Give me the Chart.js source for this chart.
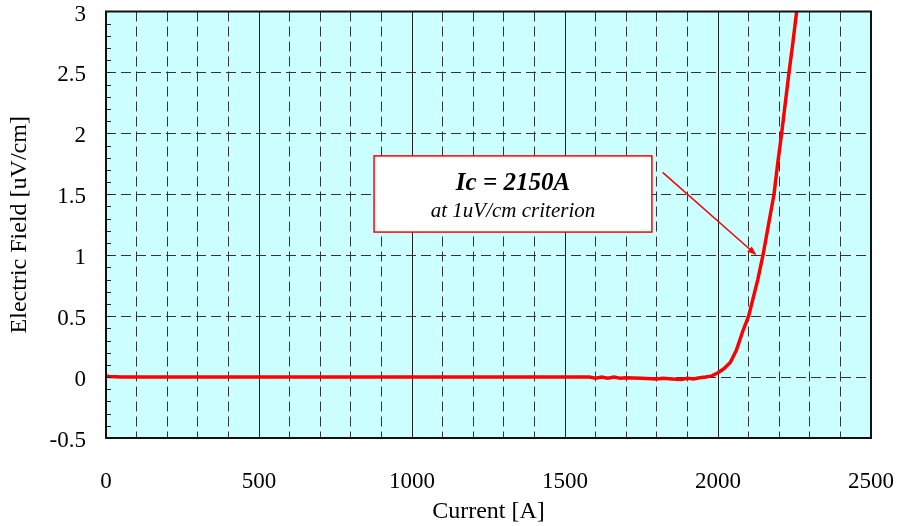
<!DOCTYPE html>
<html>
<head>
<meta charset="utf-8">
<script src="https://cdn.jsdelivr.net/npm/chart.js@4.4.1/dist/chart.umd.min.js"></script>
<style>
  html, body { margin: 0; padding: 0; background: #fff; }
  #wrap { width: 897px; height: 526px; }
</style>
</head>
<body>
<div id="wrap"><canvas id="chart"></canvas></div>
<script>
// measured I-V curve (current in A, electric field in uV/cm)
const current = [0, 10, 50, 200, 400, 600, 800, 1000, 1200, 1400, 1580, 1600, 1620, 1640, 1660, 1680, 1700,
  1750, 1800, 1820, 1850, 1880, 1900, 1920, 1940, 1960, 1980, 2000, 2020, 2040, 2060, 2080, 2100, 2113,
  2130, 2147, 2165, 2183, 2195, 2208, 2220, 2232, 2245, 2257, 2262];
const field = [0.01, 0.005, 0, 0, 0, 0, 0, 0, 0, 0, 0, -0.01, 0, -0.01, 0, -0.01, -0.005,
  -0.01, -0.015, -0.01, -0.015, -0.02, -0.01, -0.015, -0.005, 0, 0.01, 0.035, 0.07, 0.12, 0.22, 0.37, 0.5, 0.63,
  0.8, 1.0, 1.25, 1.5, 1.75, 2.0, 2.25, 2.5, 2.75, 3.0, 3.1];

const xTicks = [0, 500, 1000, 1500, 2000, 2500];
const yTicks = [-0.5, 0, 0.5, 1, 1.5, 2, 2.5, 3];

// annotation (in data units)
const noteTitle = "Ic = 2150A";
const noteSub = "at 1uV/cm criterion";
const noteBox = { x1: 876, x2: 1784, y1: 1.815, y2: 1.19 };
const noteArrow = { fromX: 1819, fromY: 1.68, toX: 2126, toY: 1.0 };

const serif = "'Liberation Serif', 'DejaVu Serif', serif";

const points = current.map((c, i) => ({ x: c, y: field[i] }));

const plotDeco = {
  id: "plotDeco",
  beforeDraw(chart) {
    const a = chart.chartArea, ctx = chart.ctx;
    ctx.save();
    ctx.fillStyle = "#ccffff";
    ctx.fillRect(a.left, a.top, a.right - a.left, a.bottom - a.top);
    ctx.restore();
  },
  afterDatasetsDraw(chart) {
    const a = chart.chartArea, ctx = chart.ctx;
    const xs = chart.scales.x, ys = chart.scales.y;
    ctx.save();
    // minor ticks on left axis
    ctx.strokeStyle = "#222";
    ctx.lineWidth = 1;
    for (let v = -0.5; v <= 3.001; v += 0.1) {
      const py = Math.round(ys.getPixelForValue(v)) + 0.5;
      ctx.beginPath();
      ctx.moveTo(a.left, py);
      ctx.lineTo(a.left + 5, py);
      ctx.stroke();
    }
    // frame
    ctx.strokeStyle = "#111";
    ctx.lineWidth = 2;
    ctx.strokeRect(a.left, a.top, a.right - a.left, a.bottom - a.top);

    // annotation box
    const bx1 = xs.getPixelForValue(noteBox.x1), bx2 = xs.getPixelForValue(noteBox.x2);
    const by1 = ys.getPixelForValue(noteBox.y1), by2 = ys.getPixelForValue(noteBox.y2);
    ctx.fillStyle = "#fff";
    ctx.fillRect(bx1, by1, bx2 - bx1, by2 - by1);
    ctx.strokeStyle = "#ff0000";
    ctx.lineWidth = 1.5;
    ctx.strokeRect(bx1, by1, bx2 - bx1, by2 - by1);
    const cx = (bx1 + bx2) / 2;
    ctx.fillStyle = "#000";
    ctx.textAlign = "center";
    ctx.textBaseline = "middle";
    ctx.font = "italic bold 25px " + serif;
    ctx.fillText(noteTitle, cx, by1 + 28);
    ctx.font = "italic 21px " + serif;
    ctx.fillText(noteSub, cx, by1 + 56);

    // arrow
    const ax1 = xs.getPixelForValue(noteArrow.fromX), ay1 = ys.getPixelForValue(noteArrow.fromY);
    const ax2 = xs.getPixelForValue(noteArrow.toX), ay2 = ys.getPixelForValue(noteArrow.toY);
    const ang = Math.atan2(ay2 - ay1, ax2 - ax1);
    ctx.strokeStyle = "#ff0000";
    ctx.fillStyle = "#ff0000";
    ctx.lineWidth = 1.5;
    ctx.beginPath();
    ctx.moveTo(ax1, ay1);
    ctx.lineTo(ax2 - 6 * Math.cos(ang), ay2 - 6 * Math.sin(ang));
    ctx.stroke();
    ctx.beginPath();
    ctx.moveTo(ax2, ay2);
    ctx.lineTo(ax2 - 10 * Math.cos(ang - 0.35), ay2 - 10 * Math.sin(ang - 0.35));
    ctx.lineTo(ax2 - 10 * Math.cos(ang + 0.35), ay2 - 10 * Math.sin(ang + 0.35));
    ctx.closePath();
    ctx.fill();
    ctx.restore();
  }
};

new Chart(document.getElementById("chart"), {
  type: "line",
  data: {
    datasets: [{
      data: points,
      borderColor: "#ff0000",
      borderWidth: 3.5,
      pointRadius: 0,
      tension: 0,
      fill: false
    }]
  },
  options: {
    responsive: true,
    maintainAspectRatio: false,
    animation: false,
    layout: { padding: { top: 11.5, right: 26, left: 0, bottom: 0 } },
    plugins: { legend: { display: false }, tooltip: { enabled: false } },
    scales: {
      x: {
        type: "linear",
        min: 0, max: 2500,
        afterBuildTicks: s => { s.ticks = xTicks.map(v => ({ value: v })); },
        afterFit: s => { s.height = 88; s.paddingLeft = 0; s.paddingRight = 0; },
        grid: { color: "#222", lineWidth: 1, drawTicks: false },
        border: { display: false },
        ticks: {
          padding: 30,
          color: "#000",
          font: { family: serif, size: 23 },
          callback: v => String(v)
        },
        title: { display: true, text: "Current [A]", color: "#000", font: { family: serif, size: 24 }, padding: { top: 0, bottom: 0 } }
      },
      x2: {
        type: "linear",
        position: "bottom",
        min: 0, max: 2500,
        afterFit: s => { s.height = 0; s.paddingLeft = 0; s.paddingRight = 0; },
        ticks: { display: false, stepSize: 100 },
        grid: {
          drawTicks: false,
          lineWidth: 1,
          color: c => (c.tick && c.tick.value % 500 === 0) ? "rgba(0,0,0,0)" : "#333"
        },
        border: { display: false, dash: [10, 5] }
      },
      y: {
        type: "linear",
        min: -0.5, max: 3,
        afterBuildTicks: s => { s.ticks = yTicks.map(v => ({ value: v })); },
        afterFit: s => { s.width = 106; s.paddingTop = 0; s.paddingBottom = 0; },
        grid: { color: "#333", lineWidth: 1, drawTicks: false },
        border: { display: false, dash: [10, 5] },
        ticks: {
          padding: 20,
          labelOffset: 3,
          color: "#000",
          font: { family: serif, size: 23 },
          callback: v => String(v)
        },
        title: { display: true, text: "Electric Field [uV/cm]", color: "#000", font: { family: serif, size: 24 }, padding: { top: 5, bottom: 0 } }
      }
    }
  },
  plugins: [plotDeco]
});
</script>
</body>
</html>
